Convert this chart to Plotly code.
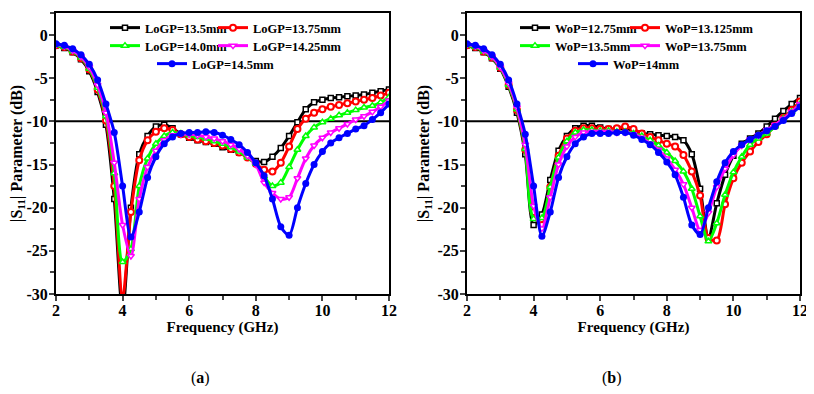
import plotly.graph_objects as go
from plotly.subplots import make_subplots

# frequency sweep (GHz), shared by both panels
freq = [2.0, 2.25, 2.5, 2.75, 3.0, 3.25, 3.5, 3.75, 4.0, 4.25, 4.5, 4.75, 5.0, 5.25,
        5.5, 5.75, 6.0, 6.25, 6.5, 6.75, 7.0, 7.25, 7.5, 7.75, 8.0, 8.25, 8.5, 8.75,
        9.0, 9.25, 9.5, 9.75, 10.0, 10.25, 10.5, 10.75, 11.0, 11.25, 11.5, 11.75, 12.0]

# (a) LoGP sweep, S11 in dB
logp_names = ["LoGP=13.5mm", "LoGP=13.75mm", "LoGP=14.0mm", "LoGP=14.25mm", "LoGP=14.5mm"]
logp_135 = [-1.2, -1.5, -2.0, -2.8, -4.2, -6.6, -10.4, -19.0, -32.0, -20.0, -13.8, -11.7, -10.6, -10.4,
            -10.8, -11.5, -11.9, -12.2, -12.4, -12.6, -13.0, -13.3, -13.6, -14.1, -14.6, -14.7, -14.1, -13.1,
            -11.7, -10.1, -8.6, -7.8, -7.5, -7.3, -7.2, -7.1, -7.0, -6.9, -6.7, -6.5, -6.3]
logp_1375 = [-1.2, -1.4, -1.9, -2.7, -4.0, -6.3, -9.9, -17.5, -30.5, -20.5, -14.5, -12.2, -11.2, -10.8,
             -11.0, -11.5, -11.8, -12.1, -12.3, -12.5, -12.8, -13.2, -13.6, -14.2, -14.9, -15.6, -15.8, -14.8,
             -12.9, -10.9, -9.7, -9.0, -8.6, -8.3, -8.1, -7.9, -7.7, -7.5, -7.3, -7.0, -6.7]
logp_140 = [-1.2, -1.4, -1.9, -2.6, -3.9, -6.1, -9.4, -16.0, -26.3, -24.8, -17.5, -14.3, -12.6, -11.7,
            -11.3, -11.4, -11.6, -11.8, -12.0, -12.3, -12.6, -13.0, -13.5, -14.2, -14.9, -16.4, -17.5, -17.1,
            -15.3, -13.3, -11.7, -10.7, -10.1, -9.7, -9.3, -9.0, -8.7, -8.4, -8.2, -7.8, -7.2]
logp_1425 = [-1.1, -1.3, -1.8, -2.5, -3.7, -5.8, -9.0, -14.8, -22.0, -25.6, -19.0, -15.3, -13.4, -12.2,
             -11.6, -11.5, -11.5, -11.6, -11.8, -12.0, -12.3, -12.7, -13.2, -14.0, -15.0, -17.1, -18.3, -19.0,
             -18.8, -16.6, -14.3, -12.8, -11.9, -11.3, -10.8, -10.3, -9.8, -9.4, -8.9, -8.3, -7.6]
logp_145 = [-1.0, -1.2, -1.6, -2.3, -3.4, -5.2, -8.0, -11.3, -17.5, -23.4, -20.5, -16.5, -14.1, -12.6,
            -11.8, -11.4, -11.3, -11.3, -11.2, -11.3, -11.6, -12.1, -12.7, -13.6, -14.8, -16.3, -19.0, -22.2,
            -23.2, -20.0, -17.2, -15.0, -13.5, -12.5, -11.9, -11.4, -10.9, -10.5, -9.8, -9.0, -8.0]

# (b) WoP sweep, S11 in dB
wop_names = ["WoP=12.75mm", "WoP=13.125mm", "WoP=13.5mm", "WoP=13.75mm", "WoP=14mm"]
wop_1275 = [-1.2, -1.5, -2.0, -2.7, -3.9, -6.0, -9.0, -13.8, -22.0, -20.8, -16.8, -13.4, -11.7, -10.8,
            -10.5, -10.5, -10.7, -10.9, -10.9, -10.8, -11.2, -11.4, -11.5, -11.6, -11.7, -11.8, -12.2, -13.8,
            -17.8, -23.5, -19.5, -16.2, -14.0, -12.6, -12.0, -11.4, -10.6, -9.7, -8.8, -8.0, -7.3]
wop_13125 = [-1.2, -1.4, -1.9, -2.6, -3.8, -5.8, -8.7, -13.3, -20.5, -22.0, -17.6, -14.0, -12.0, -11.1,
             -10.8, -10.8, -10.9, -10.9, -10.8, -10.6, -10.9, -11.4, -11.8, -12.2, -12.6, -12.9, -13.9, -15.8,
             -18.6, -23.5, -23.8, -19.6, -16.6, -14.8, -13.5, -12.4, -11.5, -10.5, -9.6, -8.7, -7.7]
wop_135 = [-1.2, -1.4, -1.9, -2.6, -3.8, -5.8, -8.6, -13.2, -21.3, -21.2, -17.6, -14.2, -12.3, -11.3,
           -11.0, -11.0, -11.1, -11.1, -11.2, -11.2, -11.4, -11.7, -12.2, -12.8, -13.6, -14.6, -15.8, -17.8,
           -21.0, -23.9, -21.8, -18.5, -15.9, -14.1, -12.7, -12.0, -11.4, -10.6, -9.7, -8.9, -8.0]
wop_1375 = [-1.1, -1.3, -1.8, -2.5, -3.7, -5.6, -8.4, -12.7, -19.8, -22.4, -18.8, -15.0, -12.9, -11.8,
            -11.3, -11.2, -11.2, -11.2, -11.3, -11.3, -11.5, -11.9, -12.6, -13.3, -14.3, -15.6, -17.3, -20.0,
            -22.6, -20.6, -17.6, -15.5, -13.9, -12.8, -12.1, -11.6, -11.0, -10.4, -9.7, -8.9, -8.0]
wop_140 = [-1.0, -1.2, -1.6, -2.3, -3.4, -5.2, -8.0, -11.5, -17.5, -23.3, -20.5, -16.5, -14.1, -12.6,
           -11.8, -11.4, -11.4, -11.4, -11.3, -11.3, -11.6, -12.1, -12.7, -13.6, -14.7, -16.2, -18.8, -22.0,
           -23.1, -20.0, -17.0, -14.8, -13.5, -12.7, -12.1, -11.6, -11.1, -10.6, -9.9, -9.1, -8.3]

y_ticks = [0, -5, -10, -15, -20, -25, -30]
y_ticktext = ["0", "-5", "-10", "-15", "-20", "-25", "-30"]
x_ticks = [2, 4, 6, 8, 10, 12]

SERIF = "Liberation Serif"
W, H = 806, 378          # page body keeps an 8px margin, so the figure sits at (8, 8)
PLOT_TOP, PLOT_BOTTOM = 5, 286
PH = PLOT_BOTTOM - PLOT_TOP

colors = ["#000000", "#ff0000", "#00ff00", "#ff00ff", "#0000ff"]
markers = [
    dict(symbol="square", size=5, color="white", line=dict(color="#000000", width=1.5)),
    dict(symbol="circle", size=6, color="white", line=dict(color="#ff0000", width=2)),
    dict(symbol="triangle-up", size=6, color="white", line=dict(color="#00ff00", width=1.5)),
    dict(symbol="triangle-down", size=6, color="white", line=dict(color="#ff00ff", width=1.5)),
    dict(symbol="circle", size=7, color="#0000ff"),
]
# legend rows: two entries, two entries, one entry
legend_rows_a = ["legend", "legend", "legend2", "legend2", "legend3"]
legend_rows_b = ["legend4", "legend4", "legend5", "legend5", "legend6"]
entry_w_a = [63, 90, 63, 90, 90]
entry_w_b = [65, 95, 65, 95, 90]

fig = make_subplots(rows=1, cols=2)

panels = [
    (1, logp_names, [logp_135, logp_1375, logp_140, logp_1425, logp_145], legend_rows_a, entry_w_a),
    (2, wop_names, [wop_1275, wop_13125, wop_135, wop_1375, wop_140], legend_rows_b, entry_w_b),
]
for col, names, series, rows, ew in panels:
    for i, (name, vals) in enumerate(zip(names, series)):
        fig.add_trace(go.Scatter(
            x=freq, y=vals, name=name, mode="lines+markers",
            line=dict(color=colors[i], width=3, shape="spline", smoothing=0.8),
            marker=markers[i], legend=rows[i], legendwidth=ew[i]), row=1, col=col)
    fig.add_hline(y=-10, line=dict(color="black", width=2), layer="below", row=1, col=col)

axis_font = dict(family=SERIF, size=16, color="black", weight="bold")
fig.update_xaxes(range=[2, 12], tickvals=x_ticks, ticks="outside", ticklen=5, tickwidth=2,
                 ticklabelstandoff=-4,
                 minor=dict(tick0=2, dtick=1, ticks="outside", ticklen=4, tickwidth=1.5),
                 showline=True, linewidth=2, linecolor="black", mirror=True, automargin=False,
                 showgrid=False, zeroline=False, tickfont=axis_font,
                 title=dict(text="<b>Frequency (GHz)</b>", font=dict(family=SERIF, size=15, color="black"),
                            standoff=0))
fig.update_yaxes(range=[-30, 2.55], tickvals=y_ticks, ticktext=y_ticktext, ticks="outside",
                 ticklen=5, tickwidth=2, ticklabelstandoff=-2,
                 minor=dict(tick0=0, dtick=2.5, ticks="outside", ticklen=4, tickwidth=1.5),
                 showline=True, linewidth=2, linecolor="black", mirror=True, automargin=False,
                 showgrid=False, zeroline=False, tickfont=axis_font,
                 title=dict(text="<b>|S<sub>11</sub>| Parameter (dB)</b>",
                            font=dict(family=SERIF, size=16, color="black"), standoff=4))

fig.update_layout(xaxis=dict(domain=[48 / W, 381 / W]), xaxis2=dict(domain=[459 / W, 792 / W]))

leg_font = dict(family=SERIF, size=12.5, color="black", weight="bold")
def legend_row(x_px, y_px):
    return dict(x=x_px / W, y=(PLOT_BOTTOM - y_px) / PH, xanchor="left", yanchor="middle",
                orientation="h", bgcolor="rgba(0,0,0,0)", font=leg_font, tracegroupgap=0)

fig.update_layout(
    width=W, height=H, plot_bgcolor="white", paper_bgcolor="white",
    margin=dict(l=0, r=0, t=PLOT_TOP, b=H - PLOT_BOTTOM),
    legend=legend_row(97, 20),
    legend2=legend_row(97, 38),
    legend3=legend_row(144, 56),
    legend4=legend_row(507, 20),
    legend5=legend_row(507, 38),
    legend6=legend_row(565, 56),
)

for label, xp in [("a", 192), ("b", 604)]:
    fig.add_annotation(text="(<b>" + label + "</b>)", x=xp / W, y=(PLOT_BOTTOM - 370) / PH,
                       xref="paper", yref="paper", xanchor="center", yanchor="middle",
                       showarrow=False, font=dict(family=SERIF, size=16, color="black"))

# no scrollbars, so the right-hand tick label is not covered
fig.write_html("out.html", post_script="document.body.style.overflow = 'hidden';")
